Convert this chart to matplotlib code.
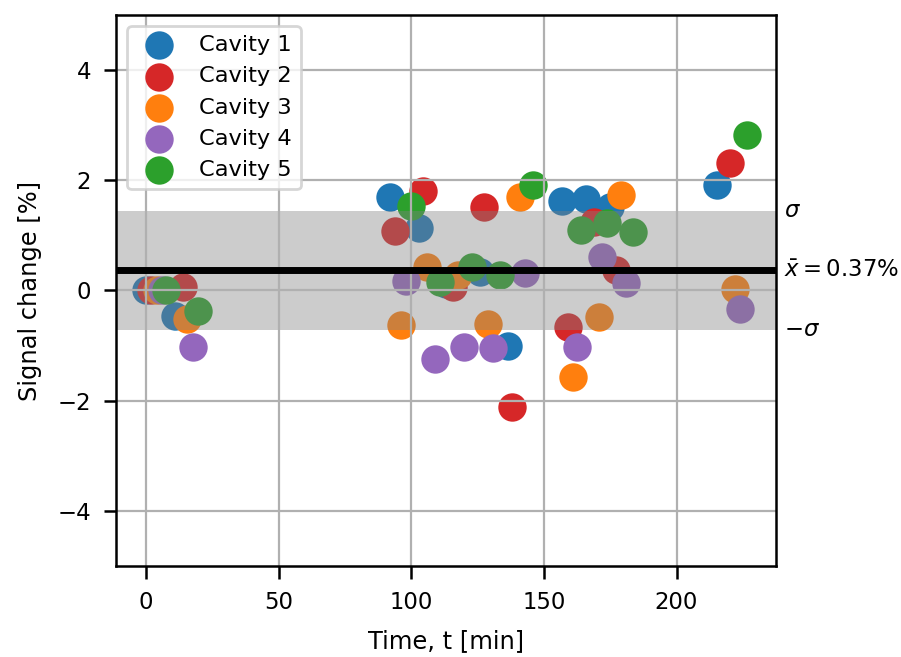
import numpy as np
import matplotlib
matplotlib.use('Agg')
import matplotlib.pyplot as plt

# measurement times [min] and signal change [%] per cavity
t_cav1 = [0, 11, 92, 103, 113, 125.8, 136.3, 157, 166, 174.8, 215.4]
s_cav1 = [0, -0.47, 1.70, 1.14, 0.12, 0.34, -1.0, 1.63, 1.66, 1.52, 1.92]

t_cav2 = [2, 14, 94, 104.5, 115.6, 127.3, 138, 159, 169, 177, 220]
s_cav2 = [0, 0.07, 1.08, 1.81, 0.07, 1.52, -2.12, -0.67, 1.25, 0.38, 2.31]

t_cav3 = [4, 15.5, 96, 106, 117.5, 129, 141, 160.8, 170.6, 179, 222]
s_cav3 = [0, -0.52, -0.63, 0.43, 0.29, -0.6, 1.70, -1.57, -0.49, 1.74, 0.02]

t_cav4 = [6, 17.8, 98, 108.8, 120, 131, 143, 162.3, 172, 181, 224]
s_cav4 = [0, -1.03, 0.18, -1.25, -1.03, -1.05, 0.31, -1.03, 0.6, 0.13, -0.33]

t_cav5 = [7.5, 19.5, 100, 110.7, 123, 133.3, 145.8, 164, 173.6, 183.4, 226.4]
s_cav5 = [0, -0.38, 1.54, 0.16, 0.43, 0.29, 1.92, 1.09, 1.23, 1.07, 2.82]

labels = ['Cavity 1', 'Cavity 2', 'Cavity 3', 'Cavity 4', 'Cavity 5']
colors = ['tab:blue', 'tab:red', 'tab:orange', 'tab:purple', 'tab:green']

times = [t_cav1, t_cav2, t_cav3, t_cav4, t_cav5]
signals = [s_cav1, s_cav2, s_cav3, s_cav4, s_cav5]

all_s = np.concatenate([np.array(s) for s in signals])
mean = all_s.mean()
sigma = all_s.std(ddof=1)

fig = plt.figure(figsize=(4.505, 3.285), dpi=200)
ax = fig.add_axes([0.1287, 0.1385, 0.7326, 0.8387])

for t, s, lab, c in zip(times, signals, labels, colors):
    ax.scatter(t, s, s=85, color=c, label=lab)

ax.axhspan(mean - sigma, mean + sigma, color='gray', alpha=0.4, lw=0)
ax.axhline(mean, color='black', lw=2.5)

ax.text(1.012, mean + sigma, r'$\sigma$', transform=ax.get_yaxis_transform(),
        va='center', ha='left', fontsize=8.2)
ax.text(1.012, mean, r'$\bar{x} = %.2f\%%$' % mean, transform=ax.get_yaxis_transform(),
        va='center', ha='left', fontsize=8.2)
ax.text(1.012, mean - sigma, r'$-\sigma$', transform=ax.get_yaxis_transform(),
        va='center', ha='left', fontsize=8.2)

ax.set_xlim(-11.3, 237.5)
ax.set_ylim(-5, 5)
ax.set_xticks([0, 50, 100, 150, 200])
ax.set_yticks([-4, -2, 0, 2, 4])
ax.tick_params(labelsize=8.2, length=4.5, width=0.9, pad=4.5)
for sp in ax.spines.values():
    sp.set_linewidth(0.9)
ax.grid(True)
ax.set_xlabel('Time, t [min]', fontsize=8.7, labelpad=5.5)
ax.set_ylabel('Signal change [%]', fontsize=8.7, labelpad=5.5)
ax.legend(loc='upper left', fontsize=8.1)

fig.savefig('out.png', dpi=200)
